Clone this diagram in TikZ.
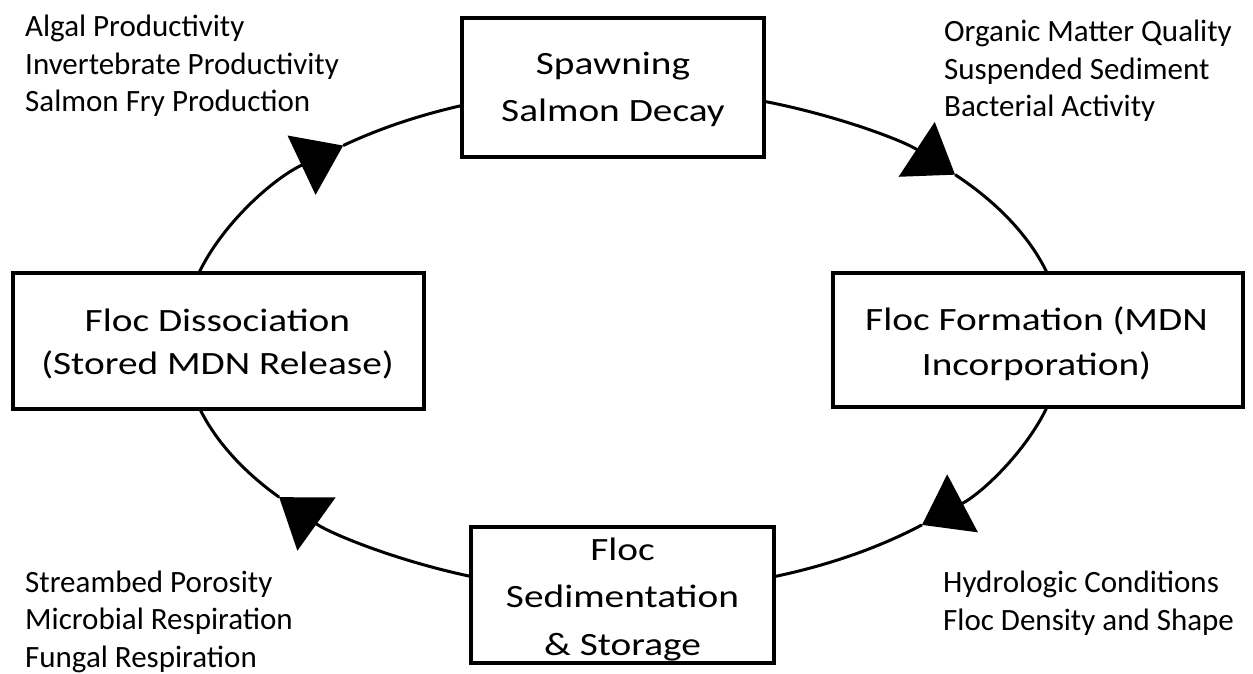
\documentclass[tikz,border=0pt]{standalone}
\usepackage{fontspec}
\setmainfont{Carlito}
\newfontfamily\boxfont{Carlito}[FakeStretch=1.21]
\usetikzlibrary{arrows.meta,calc}
\begin{document}
\begin{tikzpicture}[x=1pt,y=1pt,
  box/.style={draw, line width=4pt, fill=white, inner sep=0pt},
  boxtext/.style={align=center, anchor=base, inner sep=0pt},
  side/.style={font=\fontsize{31}{37.5}\selectfont, align=left, anchor=base west, inner sep=0pt},
  ring/.style={line width=3pt},
  tipped/.style={-{Triangle[length=46pt,width=65pt]}},
  ell/.style={x radius=440, y radius=252}]
\useasboundingbox (0,0) rectangle (1253,673);
\coordinate (O) at (623,333);
% ring points
\coordinate (l1) at ($(O)+(164.6:440 and 252)$);
\coordinate (t1) at ($(O)+(129.5:440 and 252)$);
\coordinate (p1) at ($(O)+(111.5:440 and 252)$);
\coordinate (p2) at ($(O)+(71.3:440 and 252)$);
\coordinate (t2) at ($(O)+(41:440 and 252)$);
\coordinate (r2) at ($(O)+(15.4:440 and 252)$);
\coordinate (r3) at ($(O)+(-15.4:440 and 252)$);
\coordinate (t3) at ($(O)+(-47.2:440 and 252)$);
\coordinate (b3) at ($(O)+(-69.9:440 and 252)$);
\coordinate (b4) at ($(O)+(-110.2:440 and 252)$);
\coordinate (t4) at ($(O)+(-141.4:440 and 252)$);
\coordinate (l4) at ($(O)+(-164.1:440 and 252)$);
% connectors
\draw[ring,tipped] (l1) arc[ell, start angle=164.6, end angle=129.5];
\draw[ring] (t1) arc[ell, start angle=129.5, end angle=111.5];
\draw[ring,tipped] (p2) arc[ell, start angle=71.3, end angle=41];
\draw[ring] (t2) arc[ell, start angle=41, end angle=15.4];
\draw[ring,tipped] (r3) arc[ell, start angle=-15.4, end angle=-47.2];
\draw[ring] (t3) arc[ell, start angle=-47.2, end angle=-69.9];
\draw[ring,tipped] (b4) arc[ell, start angle=-110.2, end angle=-141.4];
\draw[ring] (t4) arc[ell, start angle=-141.4, end angle=-164.1];
% boxes
\node[box, minimum width=302, minimum height=139] (top) at (613,585.5) {};
\node[box, minimum width=303, minimum height=136] (bot) at (622.5,78) {};
\node[box, minimum width=411, minimum height=136] (left) at (218.5,332) {};
\node[box, minimum width=410, minimum height=134] (right) at (1038,333) {};
% box texts (anchor = baseline of last line)
\node[boxtext, font=\boxfont\fontsize{32.5}{46.7}\selectfont] (topT) at (613,551.3) {Spawning\\Salmon Decay};
\node[boxtext, font=\boxfont\fontsize{32.5}{47.5}\selectfont] (botT) at (622.5,18) {Floc\\Sedimentation\\\& Storage};
\node[boxtext, font=\boxfont\fontsize{32.5}{43.3}\selectfont] (leftT) at (217.5,298) {Floc Dissociation\\(Stored MDN Release)};
\node[boxtext, font=\boxfont\fontsize{32.5}{45}\selectfont] (rightT) at (1036.5,298) {Floc Formation (MDN\\Incorporation)};
% side texts
\node[side] (tl) at (25,561.3) {Algal Productivity\\Invertebrate Productivity\\Salmon Fry Production};
\node[side] (tr) at (944,556.3) {Organic Matter Quality\\Suspended Sediment\\Bacterial Activity};
\node[side] (bl) at (25,6) {Streambed Porosity\\Microbial Respiration\\Fungal Respiration};
\node[side] (br) at (943,43) {Hydrologic Conditions\\Floc Density and Shape};
\end{tikzpicture}
\end{document}
